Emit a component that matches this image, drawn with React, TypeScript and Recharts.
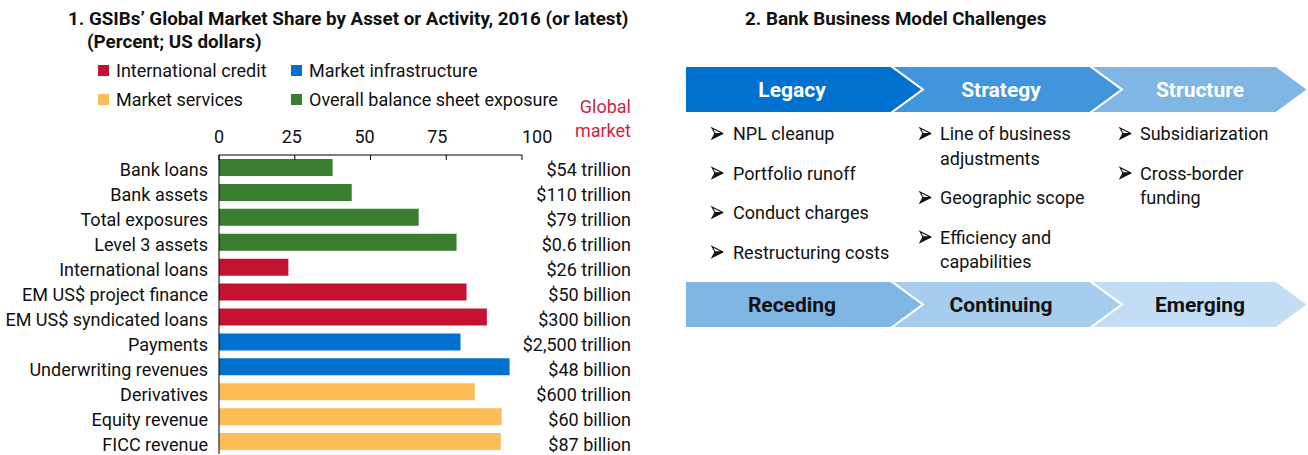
import React from "react";
import { BarChart, Bar, XAxis, YAxis, Cell } from "recharts";

const FONT = "Roboto, 'Liberation Sans', sans-serif";

// panel 1 data
const categories = [
  "Bank loans",
  "Bank assets",
  "Total exposures",
  "Level 3 assets",
  "International loans",
  "EM US$ project finance",
  "EM US$ syndicated loans",
  "Payments",
  "Underwriting revenues",
  "Derivatives",
  "Equity revenue",
  "FICC revenue",
];
const shares = [37.5, 43.8, 65.9, 78.4, 22.9, 81.7, 88.4, 79.7, 95.9, 84.4, 93.3, 93.0];
const marketSizes = [
  "$54 trillion",
  "$110 trillion",
  "$79 trillion",
  "$0.6 trillion",
  "$26 trillion",
  "$50 billion",
  "$300 billion",
  "$2,500 trillion",
  "$48 billion",
  "$600 trillion",
  "$60 billion",
  "$87 billion",
];
const groupOf = [3, 3, 3, 3, 0, 0, 0, 1, 1, 2, 2, 2];
const groupNames = ["International credit", "Market infrastructure", "Market services", "Overall balance sheet exposure"];
const groupColors = ["#C41230", "#0071CE", "#FDBD57", "#3A7D2E"];
const xTicks = [0, 25, 50, 75, 100];

// panel 2 data
const phases = ["Legacy", "Strategy", "Structure"];
const trends = ["Receding", "Continuing", "Emerging"];
const bullets: string[][][] = [
  [["NPL cleanup"], ["Portfolio runoff"], ["Conduct charges"], ["Restructuring costs"]],
  [["Line of business", "adjustments"], ["Geographic scope"], ["Efficiency and", "capabilities"]],
  [["Subsidiarization"], ["Cross-border", "funding"]],
];
const phaseColors = ["#0071CE", "#4095DC", "#80B6E4"];
const trendColors = ["#80B6E4", "#A6CDEE", "#C2DDF4"];

const data = categories.map((name, i) => ({ name, share: shares[i], size: marketSizes[i], group: groupOf[i] }));

const txt = { fontFamily: FONT, fontSize: 18, fill: "#111" };
const bold = { fontFamily: FONT, fontSize: 18.8, fontWeight: 700, fill: "#111" };

// the source nudges its top labels a little off the ticks
const TopTick = (props: any) => {
  const { x, y, payload, index } = props;
  const last = index === xTicks.length - 1;
  return (
    <g>
      <text
        x={last ? x : x - 3 * index}
        y={y - 12}
        textAnchor={last ? "start" : "middle"}
        style={txt}
      >
        {payload.value}
      </text>
      <line x1={x} x2={x} y1={y} y2={y + 5} stroke="#000" />
    </g>
  );
};

const LeftTick = (props: any) => {
  const { x, y, payload } = props;
  return (
    <text x={x - 11} y={y + 9} textAnchor="end" style={txt}>
      {payload.value}
    </text>
  );
};

const RightTick = (props: any) => {
  const { x, y, index } = props;
  return (
    <text x={x + 109} y={y + 9} textAnchor="end" style={txt}>
      {marketSizes[index]}
    </text>
  );
};

// chevron layout
const seg = [
  { L: 685, R: 891, cx: 792 },
  { L: 891, R: 1090, cx: 1001 },
  { L: 1090, R: 1276, cx: 1200 },
];
const depth = 32;
const chevron = (i: number, y0: number, y1: number) => {
  const { L, R } = seg[i];
  const m = (y0 + y1) / 2;
  const pts = [`${L},${y0}`, `${R},${y0}`, `${R + depth},${m}`, `${R},${y1}`, `${L},${y1}`];
  if (i > 0) pts.push(`${L + depth},${m}`);
  return pts.join(" ");
};
const bulletX = [712, 920, 1120];
const textX = [733, 940, 1140];

// ➢ style bullet: light upper half, dark lower half
const Arrowhead = ({ x, y }: { x: number; y: number }) => {
  const w = 11;
  const h = 11;
  const m = y - h / 2;
  return (
    <g strokeLinejoin="miter">
      <path d={`M${x},${y - h} L${x + w},${m} L${x + 3},${m} Z`} fill="#fff" stroke="#111" strokeWidth={1.1} />
      <path d={`M${x + 3},${m} L${x + w},${m} L${x},${y} Z`} fill="#111" stroke="#111" strokeWidth={1.1} />
    </g>
  );
};

export default function App() {
  const legendPos = [
    { x: 98, y: 65 },
    { x: 291, y: 65 },
    { x: 98, y: 94 },
    { x: 291, y: 94 },
  ];
  const bulletLines: { col: number; text: string; y: number; first: boolean }[] = [];
  bullets.forEach((items, col) => {
    let y = 140;
    items.forEach((lines) => {
      lines.forEach((t, j) => {
        bulletLines.push({ col, text: t, y, first: j === 0 });
        y += j < lines.length - 1 ? 24.5 : 39.5;
      });
    });
  });

  return (
    <div style={{ position: "absolute", left: 0, top: 0, width: 1308, height: 455, background: "#fff" }}>
      <div style={{ position: "absolute", left: 0, top: 0 }}>
        <BarChart
          width={660}
          height={455}
          data={data}
          layout="vertical"
          margin={{ top: 125, right: 28, bottom: 1, left: 0 }}
        >
          <XAxis
            type="number"
            orientation="top"
            domain={[0, 100]}
            ticks={xTicks}
            interval={0}
            height={30}
            tickSize={0}
            tickMargin={0}
            axisLine={{ stroke: "#000" }}
            tick={<TopTick />}
          />
          <YAxis
            yAxisId="left"
            type="category"
            dataKey="name"
            width={219}
            tickSize={0}
            tickMargin={0}
            tickLine={false}
            axisLine={{ stroke: "#000" }}
            interval={0}
            tick={<LeftTick />}
          />
          <YAxis
            yAxisId="right"
            orientation="right"
            type="category"
            dataKey="name"
            width={110}
            tickSize={0}
            tickMargin={0}
            tickLine={false}
            axisLine={false}
            interval={0}
            tick={<RightTick />}
          />
          <Bar dataKey="share" yAxisId="left" barSize={17} isAnimationActive={false}>
            {data.map((d, i) => (
              <Cell key={i} fill={groupColors[d.group]} />
            ))}
          </Bar>
        </BarChart>
      </div>

      <svg width={1308} height={455} style={{ position: "absolute", left: 0, top: 0, pointerEvents: "none" }}>
        <text x={68} y={24.5} style={bold}>
          1. GSIBs’ Global Market Share by Asset or Activity, 2016 (or latest)
        </text>
        <text x={87} y={48} style={bold}>
          (Percent; US dollars)
        </text>
        {groupNames.map((g, i) => (
          <g key={g}>
            <rect x={legendPos[i].x} y={legendPos[i].y} width={11} height={11} fill={groupColors[i]} />
            <text x={legendPos[i].x + 18} y={legendPos[i].y + 12} style={txt}>
              {g}
            </text>
          </g>
        ))}
        <text x={631} y={113} textAnchor="end" style={{ ...txt, fill: "#CF1F3F" }}>
          Global
        </text>
        <text x={631} y={137} textAnchor="end" style={{ ...txt, fill: "#CF1F3F" }}>
          market
        </text>

        <text x={745} y={24.5} style={bold}>
          2. Bank Business Model Challenges
        </text>
        {phases.map((p, i) => (
          <g key={p}>
            <polygon points={chevron(i, 66, 113)} fill={phaseColors[i]} stroke="#fff" strokeWidth={2} />
            <text x={seg[i].cx} y={97} textAnchor="middle" style={{ ...bold, fontSize: 21, fill: "#fff" }}>
              {p}
            </text>
          </g>
        ))}
        {trends.map((t, i) => (
          <g key={t}>
            <polygon points={chevron(i, 281, 328)} fill={trendColors[i]} stroke="#fff" strokeWidth={2} />
            <text x={seg[i].cx} y={312} textAnchor="middle" style={{ ...bold, fontSize: 21 }}>
              {t}
            </text>
          </g>
        ))}
        {bulletLines.map((b, k) => (
          <g key={k}>
            {b.first && <Arrowhead x={bulletX[b.col]} y={b.y - 1} />}
            <text x={textX[b.col]} y={b.y} style={txt}>
              {b.text}
            </text>
          </g>
        ))}
      </svg>
    </div>
  );
}
